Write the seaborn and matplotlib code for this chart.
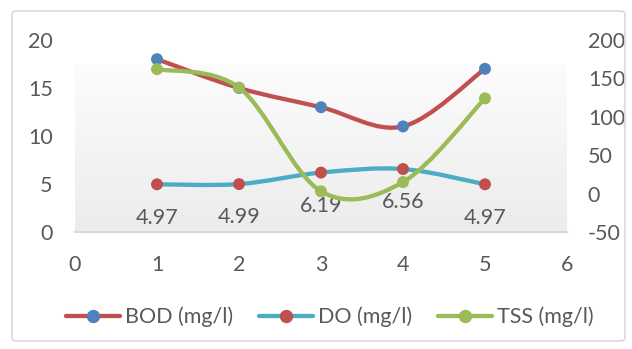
import numpy as np
import matplotlib
matplotlib.use("Agg")
import matplotlib.pyplot as plt
import seaborn as sns
import pandas as pd
from matplotlib.path import Path
from matplotlib.patches import PathPatch, FancyBboxPatch
from matplotlib.lines import Line2D
from matplotlib.colors import LinearSegmentedColormap

# Sampling points and measured parameters
samples = [1, 2, 3, 4, 5]
bod = [18, 15, 13, 11, 17]
do = [4.97, 4.99, 6.19, 6.56, 4.97]
tss = [162, 138, 3, 15, 124]
series_names = ["BOD (mg/l)", "DO (mg/l)", "TSS (mg/l)"]
x_ticks = [0, 1, 2, 3, 4, 5, 6]
left_ticks = [0, 5, 10, 15, 20]
right_ticks = [-50, 0, 50, 100, 150, 200]

BOD_LINE, BOD_MARK = "#C0504D", "#4F81BD"
DO_LINE, DO_MARK = "#4BACC6", "#C0504D"
TSS_LINE, TSS_MARK = "#9BBB59", "#9BBB59"
TEXT = "#595959"
FS = 15.5
LW = 3.1
MS = 8.6

sns.set_theme(style="white")
plt.rcParams["font.family"] = ["Lato", "DejaVu Sans"]
plt.rcParams["axes.unicode_minus"] = False

W, H = 632, 349
fig = plt.figure(figsize=(W / 100, H / 100), dpi=100)
ax = fig.add_axes([75 / W, 117 / H, 492 / W, 192 / H])
ax2 = ax.twinx()


def smooth_path(xs, ys):
    """Cubic Bezier path through the points (Catmull-Rom style tangents)."""
    pts = np.column_stack([xs, ys]).astype(float)
    n = len(pts)
    verts, codes = [pts[0]], [Path.MOVETO]
    for i in range(n - 1):
        p0 = pts[max(i - 1, 0)]
        p1, p2 = pts[i], pts[i + 1]
        p3 = pts[min(i + 2, n - 1)]
        verts += [p1 + (p2 - p0) / 6, p2 - (p3 - p1) / 6, p2]
        codes += [Path.CURVE4] * 3
    return Path(verts, codes)


# inner plot-area gradient panel
cmap = LinearSegmentedColormap.from_list("panel", ["#fcfcfc", "#ececec"])
grad = np.linspace(0, 1, 256).reshape(-1, 1)
ax.imshow(grad, extent=[0, 6, 0, 17.4], aspect="auto", cmap=cmap, zorder=0,
          origin="upper", interpolation="bilinear")

df = pd.DataFrame({"sample": samples, "bod": bod, "do": do, "tss": tss})

# primary axis series
ax.add_patch(PathPatch(smooth_path(samples, bod), fill=False, edgecolor=BOD_LINE,
                       lw=LW, capstyle="round", joinstyle="round", zorder=2))
ax.add_patch(PathPatch(smooth_path(samples, do), fill=False, edgecolor=DO_LINE,
                       lw=LW, capstyle="round", joinstyle="round", zorder=2))
sns.scatterplot(data=df, x="sample", y="bod", ax=ax, color=BOD_MARK, s=MS ** 2,
                edgecolor="none", zorder=3, legend=False)
sns.scatterplot(data=df, x="sample", y="do", ax=ax, color=DO_MARK, s=MS ** 2,
                edgecolor="none", zorder=3, legend=False)

for xv, yv in zip(samples, do):
    ax.annotate(f"{yv:.2f}", (xv, yv), xytext=(0, -24), textcoords="offset points",
                ha="center", va="center", fontsize=FS, color=TEXT, zorder=4)

# secondary axis series
ax2.add_patch(PathPatch(smooth_path(samples, tss), fill=False, edgecolor=TSS_LINE,
                        lw=LW, capstyle="round", joinstyle="round", zorder=2))
sns.scatterplot(data=df, x="sample", y="tss", ax=ax2, color=TSS_MARK, s=MS ** 2,
                edgecolor="none", zorder=3, legend=False)

ax.set_xlim(0, 6)
ax.set_ylim(0, 20)
ax2.set_ylim(-50, 200)
ax.set_xticks(x_ticks)
ax.set_yticks(left_ticks)
ax2.set_yticks(right_ticks)
ax.set_xlabel("")
ax.set_ylabel("")
ax2.set_ylabel("")
ax.grid(False)
ax2.grid(False)

for s in ax.spines.values():
    s.set_visible(False)
for s in ax2.spines.values():
    s.set_visible(False)
ax.spines["bottom"].set_visible(True)
ax.spines["bottom"].set_color("#d9d9d9")
ax.spines["bottom"].set_linewidth(1.5)
ax2.patch.set_visible(False)

ax.tick_params(axis="x", length=0, pad=16.5, labelsize=FS, colors=TEXT)
ax.tick_params(axis="y", length=0, pad=16, labelsize=FS, colors=TEXT)
ax2.tick_params(axis="y", length=0, pad=15, labelsize=FS, colors=TEXT)

# legend
handles = [
    Line2D([0], [0], color=BOD_LINE, lw=LW, marker="o", markersize=MS,
           markerfacecolor=BOD_MARK, markeredgecolor=BOD_MARK, solid_capstyle="round"),
    Line2D([0], [0], color=DO_LINE, lw=LW, marker="o", markersize=MS,
           markerfacecolor=DO_MARK, markeredgecolor=DO_MARK, solid_capstyle="round"),
    Line2D([0], [0], color=TSS_LINE, lw=LW, marker="o", markersize=MS,
           markerfacecolor=TSS_MARK, markeredgecolor=TSS_MARK, solid_capstyle="round"),
]
leg = fig.legend(handles, series_names, loc="center", bbox_to_anchor=(330 / W, 1 - 317 / H),
                 ncol=3, frameon=False, fontsize=FS, handlelength=2.5,
                 handletextpad=0.25, columnspacing=1.2, borderaxespad=0)
for t in leg.get_texts():
    t.set_color(TEXT)

# chart border
fig.patches.append(FancyBboxPatch((12, 8), 613, 330, boxstyle="round,pad=0,rounding_size=4",
                                  transform=None, fill=False, edgecolor="#d9d9d9", lw=1.2))

fig.savefig("out.png", dpi=100)
